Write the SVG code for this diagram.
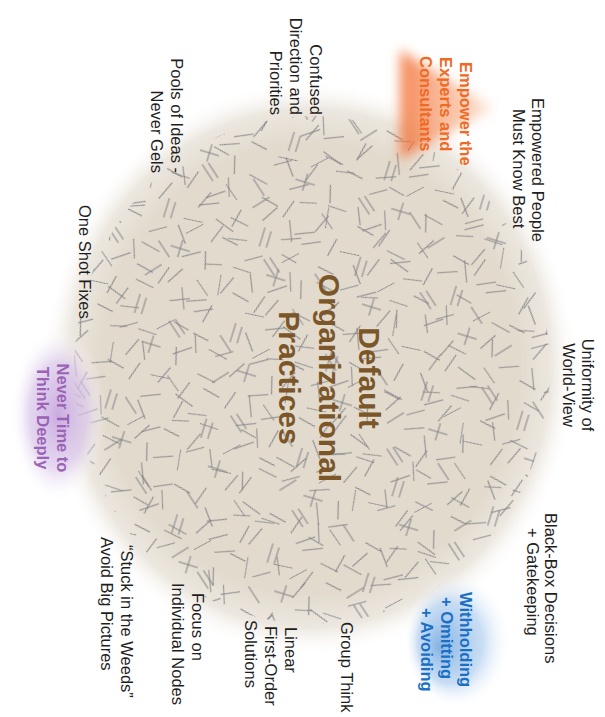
<svg xmlns="http://www.w3.org/2000/svg" width="605" height="717" viewBox="0 0 605 717">
<style>
.lbl{font-family:"Liberation Sans",Arial,sans-serif;font-size:16.5px;fill:#1e1e1e}
.hl{font-family:"Liberation Sans",Arial,sans-serif;font-size:16.5px;font-weight:bold}
.core{font-family:"Liberation Sans",Arial,sans-serif;font-size:30px;font-weight:bold;fill:#7a5628;text-anchor:middle}
.stk{stroke:#828286;stroke-width:1;fill:none}
.end{text-anchor:end}
.mid{text-anchor:middle}
</style>
<defs>
  <radialGradient id="discFill" cx="0.5" cy="0.5" r="0.5">
    <stop offset="0" stop-color="#e2dacd"/>
    <stop offset="0.78" stop-color="#e2dacd"/>
    <stop offset="0.9" stop-color="#ece7df"/>
    <stop offset="1" stop-color="#ffffff" stop-opacity="0"/>
  </radialGradient>
  <linearGradient id="orangeGlow" x1="0" y1="0" x2="1" y2="0">
    <stop offset="0" stop-color="#f26a2c" stop-opacity="0.8"/>
    <stop offset="0.35" stop-color="#f48650" stop-opacity="0.65"/>
    <stop offset="0.75" stop-color="#f7a477" stop-opacity="0.5"/>
    <stop offset="1" stop-color="#fbc9ab" stop-opacity="0.35"/>
  </linearGradient>
  <radialGradient id="purpleGlow" cx="0.5" cy="0.5" r="0.5">
    <stop offset="0" stop-color="#c8a8de" stop-opacity="0.95"/>
    <stop offset="0.6" stop-color="#d9c6ea" stop-opacity="0.7"/>
    <stop offset="1" stop-color="#ffffff" stop-opacity="0"/>
  </radialGradient>
  <radialGradient id="blueGlow" cx="0.5" cy="0.5" r="0.5" fx="0.32" fy="0.55">
    <stop offset="0" stop-color="#7fb0e4" stop-opacity="0.95"/>
    <stop offset="0.6" stop-color="#b6d2f0" stop-opacity="0.75"/>
    <stop offset="1" stop-color="#ffffff" stop-opacity="0"/>
  </radialGradient>
  <filter id="soft" x="-30%" y="-30%" width="160%" height="160%">
    <feGaussianBlur stdDeviation="6"/>
  </filter>
  <clipPath id="discClip">
    <ellipse cx="312" cy="370" rx="238" ry="254"/>
  </clipPath>
  <!-- three stick tilings at different sizes and angles, layered so the repeat is hard to see -->
  <pattern id="sticksA" width="100" height="100" patternUnits="userSpaceOnUse" patternTransform="rotate(17)">
    <path class="stk" d="M8 12l18 4M40 6l-6 19M70 10l15 12M92 30l-4 19M20 40l0 20M27 42l0 17M50 38l19-8M60 55l-14 14M82 62l17 3M10 78l16-10M35 85l20 0M45 76l0 18M70 80l5 18"/>
  </pattern>
  <pattern id="sticksB" width="113" height="113" patternUnits="userSpaceOnUse" patternTransform="rotate(-33) translate(20 7)">
    <path class="stk" d="M5 20l20-6M30 5l12 15M60 15l0 20M66 17l0 18M85 8l18 10M15 50l14 14M45 45l20 5M75 40l-10 17M95 55l0 20M25 85l19-7M55 75l10 17M80 95l20-3M8 100l14 10"/>
  </pattern>
  <pattern id="sticksC" width="127" height="127" patternUnits="userSpaceOnUse" patternTransform="rotate(58) translate(11 40)">
    <path class="stk" d="M10 10l6 19M35 20l20-8M70 5l-12 15M100 20l17 8M20 55l20 4M55 50l-6 19M85 45l16 14M110 70l-8 18M15 95l18-10M45 90l0 20M75 85l20 10M100 110l15-8"/>
  </pattern>
</defs>

<rect width="605" height="717" fill="#ffffff"/>

<!-- central disc with its scattered sticks -->
<g id="practices-disc">
  <ellipse cx="310" cy="368" rx="268" ry="288" fill="url(#discFill)"/>
  <g clip-path="url(#discClip)">
    <rect x="60" y="100" width="510" height="540" fill="url(#sticksA)"/>
    <rect x="60" y="100" width="510" height="540" fill="url(#sticksB)"/>
    <rect x="60" y="100" width="510" height="540" fill="url(#sticksC)"/>
  </g>
</g>

<!-- highlight glows -->
<polygon points="400,50 400,160 494,108" fill="url(#orangeGlow)" filter="url(#soft)"/>
<ellipse cx="58" cy="415" rx="48" ry="88" fill="url(#purpleGlow)"/>
<ellipse cx="458" cy="640" rx="54" ry="68" fill="url(#blueGlow)"/>

<g id="core-label" transform="rotate(90)">
  <text class="core" x="378" y="-359">Default</text>
  <text class="core" x="378" y="-319">Organizational</text>
  <text class="core" x="378" y="-279">Practices</text>
</g>

<g id="confused-direction" transform="rotate(90)">
  <text class="lbl end" x="115" y="-310">Confused</text>
  <text class="lbl end" x="115" y="-290">Direction and</text>
  <text class="lbl end" x="115" y="-270">Priorities</text>
</g>

<g id="pools-of-ideas" transform="rotate(90)">
  <text class="lbl end" x="173" y="-171">Pools of Ideas -</text>
  <text class="lbl end" x="173" y="-151">Never Gels</text>
</g>

<g id="one-shot-fixes" transform="rotate(90)">
  <text class="lbl" x="205" y="-79">One Shot Fixes</text>
</g>

<g id="never-time" transform="rotate(90)">
  <text class="hl mid" fill="#9b63b5" x="418" y="-57">Never Time to</text>
  <text class="hl mid" fill="#9b63b5" x="418" y="-37">Think Deeply</text>
</g>

<g id="stuck-in-weeds" transform="rotate(90)">
  <text class="lbl" x="545" y="-121">“Stuck in the Weeds”</text>
  <text class="lbl" x="537" y="-101">Avoid Big Pictures</text>
</g>

<g id="focus-individual" transform="rotate(90)">
  <text class="lbl" x="593" y="-192">Focus on</text>
  <text class="lbl" x="583" y="-172">Individual Nodes</text>
</g>

<g id="linear-solutions" transform="rotate(90)">
  <text class="lbl" x="627" y="-285">Linear</text>
  <text class="lbl" x="626" y="-265">First-Order</text>
  <text class="lbl" x="620" y="-245">Solutions</text>
</g>

<g id="group-think" transform="rotate(90)">
  <text class="lbl" x="622" y="-341">Group Think</text>
</g>

<g id="withholding" transform="rotate(90)">
  <text class="hl" fill="#1a6fc4" x="592" y="-460">Withholding</text>
  <text class="hl" fill="#1a6fc4" x="597" y="-441">+ Omitting</text>
  <text class="hl" fill="#1a6fc4" x="608" y="-421">+ Avoiding</text>
</g>

<g id="black-box" transform="rotate(90)">
  <text class="lbl" x="513" y="-545">Black-Box Decisions</text>
  <text class="lbl" x="528" y="-527">+ Gatekeeping</text>
</g>

<g id="uniformity" transform="rotate(90)">
  <text class="lbl mid" x="385" y="-582">Uniformity of</text>
  <text class="lbl mid" x="385" y="-563">World-View</text>
</g>

<g id="empowered-people" transform="rotate(90)">
  <text class="lbl" x="98" y="-532">Empowered People</text>
  <text class="lbl" x="109" y="-513">Must Know Best</text>
</g>

<g id="empower-experts" transform="rotate(90)">
  <text class="hl" fill="#f06a25" x="62" y="-460">Empower the</text>
  <text class="hl" fill="#f06a25" x="57" y="-440">Experts and</text>
  <text class="hl" fill="#f06a25" x="56" y="-420">Consultants</text>
</g>
</svg>
